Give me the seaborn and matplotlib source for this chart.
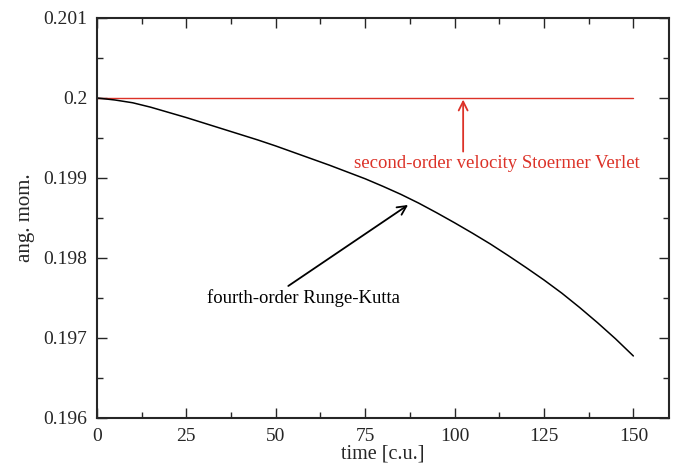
import numpy as np
import pandas as pd
import matplotlib
matplotlib.use("Agg")
import matplotlib.pyplot as plt
from matplotlib.ticker import MultipleLocator, FixedLocator, FixedFormatter
import seaborn as sns

# ---- data ----
time_rk = [0, 5, 10, 15, 20, 25, 30, 35, 40, 45, 50, 55, 60, 65, 70, 75, 80, 85, 90,
           95, 100, 105, 110, 115, 120, 125, 130, 135, 140, 145, 150]
angmom_rk = [0.200000, 0.199975, 0.199940, 0.199885, 0.199820, 0.199755, 0.199685,
             0.199615, 0.199545, 0.199475, 0.199400, 0.199320, 0.199240, 0.199160,
             0.199075, 0.198990, 0.198895, 0.198795, 0.198685, 0.198565, 0.198440,
             0.198310, 0.198175, 0.198030, 0.197880, 0.197725, 0.197560, 0.197380,
             0.197190, 0.196990, 0.196775]
time_sv = [0, 150]
angmom_sv = [0.2, 0.2]

x_ticks = [0, 25, 50, 75, 100, 125, 150]
x_ticklabels = ["0", "25", "50", "75", "100", "125", "150"]
y_ticks = [0.196, 0.197, 0.198, 0.199, 0.2, 0.201]
y_ticklabels = ["0.196", "0.197", "0.198", "0.199", "0.2", "0.201"]

label_rk = "fourth-order Runge-Kutta"
label_sv = "second-order velocity Stoermer Verlet"
xlabel = "time [c.u.]"
ylabel = "ang. mom."

red = "#dc3228"

sns.set_style("ticks")
plt.rcParams["font.family"] = ["Liberation Serif", "DejaVu Serif"]

fig = plt.figure(figsize=(6.8, 4.67), dpi=100)
ax = fig.add_axes([0.1426, 0.105, 0.8414, 0.8565])

df_rk = pd.DataFrame({"t": time_rk, "L": angmom_rk})
df_sv = pd.DataFrame({"t": time_sv, "L": angmom_sv})
sns.lineplot(data=df_sv, x="t", y="L", ax=ax, color=red, lw=1.0)
sns.lineplot(data=df_rk, x="t", y="L", ax=ax, color="black", lw=1.1)

ax.set_xlim(0, 160)
ax.set_ylim(0.196, 0.201)
ax.xaxis.set_major_locator(FixedLocator(x_ticks))
ax.xaxis.set_major_formatter(FixedFormatter(x_ticklabels))
ax.yaxis.set_major_locator(FixedLocator(y_ticks))
ax.yaxis.set_major_formatter(FixedFormatter(y_ticklabels))
ax.xaxis.set_minor_locator(MultipleLocator(12.5))
ax.yaxis.set_minor_locator(MultipleLocator(0.0005))

ax.tick_params(which="both", direction="in", top=True, right=True, labelsize=14, width=1.0)
ax.tick_params(which="major", length=7)
ax.tick_params(which="minor", length=4)
ax.tick_params(axis="x", which="major", pad=7)
ax.tick_params(axis="y", which="major", pad=7)
for s in ax.spines.values():
    s.set_linewidth(1.5)
    s.set_visible(True)

ax.set_xlabel(xlabel, fontsize=14.5, labelpad=0)
ax.set_ylabel(ylabel, fontsize=15, labelpad=6)

ax.annotate("", xy=(102.4, 0.19998), xytext=(102.4, 0.19933),
            arrowprops=dict(arrowstyle="->", color=red, lw=1.3, mutation_scale=16, shrinkA=0, shrinkB=0))
ax.text(111.7, 0.199187, label_sv, color=red, fontsize=13.5, ha="center", va="center")

ax.annotate("", xy=(87.0, 0.198663), xytext=(53.5, 0.19765),
            arrowprops=dict(arrowstyle="->", color="black", lw=1.3, mutation_scale=16, shrinkA=0, shrinkB=0))
ax.text(57.7, 0.1975, label_rk, color="black", fontsize=13.5, ha="center", va="center")

fig.savefig("out.png", dpi=100)
